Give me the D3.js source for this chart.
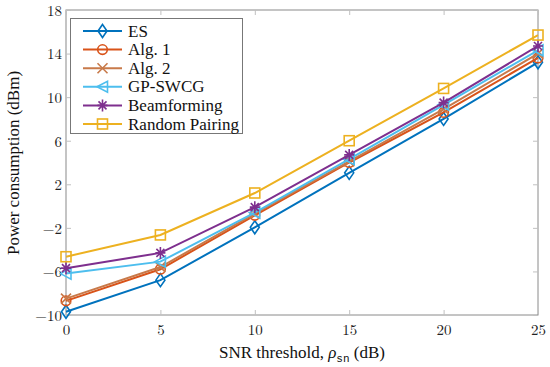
<!DOCTYPE html>
<html><head><meta charset="utf-8">
<script src="https://cdn.jsdelivr.net/npm/d3@7"></script>
<style>
body{margin:0;background:#fff;}
</style></head>
<body><svg id="c" width="550" height="367"></svg>
<script>
const snr = [0, 5, 10, 15, 20, 25];
const xTicks = [0, 5, 10, 15, 20, 25];
const yTicks = [-10, -6, -2, 2, 6, 10, 14, 18];
const seriesNames = ["ES", "Alg. 1", "Alg. 2", "GP-SWCG", "Beamforming", "Random Pairing"];
const esVals = [-9.7, -6.8, -1.95, 3.05, 8.0, 13.2];
const alg1Vals = [-8.7, -5.8, -0.85, 4.0, 8.6, 13.6];
const alg2Vals = [-8.5, -5.6, -0.7, 4.1, 8.9, 14.0];
const gpVals = [-6.2, -5.1, -0.6, 4.3, 9.3, 14.3];
const bfVals = [-5.7, -4.3, -0.1, 4.7, 9.5, 14.7];
const rpVals = [-4.65, -2.65, 1.2, 6.0, 10.8, 15.7];
const colors = ["#0072BD", "#D95319", "#C87A4A", "#4DBEEE", "#7E2F8E", "#EDB120"];
const markers = ["diamond", "circle", "cross", "triangle", "star", "square"];
const allVals = [esVals, alg1Vals, alg2Vals, gpVals, bfVals, rpVals];

const svg = d3.select("#c");
const m = {l:66, r:538, t:10, b:315};
const x = d3.scaleLinear().domain([0,25]).range([m.l, m.r]);
const y = d3.scaleLinear().domain([-10,18]).range([m.b, m.t]);
const axisCol = "#8a8a8a";
const SERIF = '"Liberation Serif"';
const CM = '"Latin Modern Roman"';

svg.append("rect").attr("x",m.l).attr("y",m.t).attr("width",m.r-m.l).attr("height",m.b-m.t)
  .attr("fill","none").attr("stroke",axisCol).attr("stroke-width",1);

const fmt = d => d < 0 ? "\u2212" + Math.abs(d) : String(d);
const xa = svg.append("g").attr("transform",`translate(0,${m.b})`)
  .call(d3.axisBottom(x).tickValues(xTicks).tickSize(-5).tickPadding(9).tickFormat(fmt));
const xt = svg.append("g").attr("transform",`translate(0,${m.t})`)
  .call(d3.axisTop(x).tickValues(xTicks).tickSize(-5).tickFormat(""));
const ya = svg.append("g").attr("transform",`translate(${m.l},0)`)
  .call(d3.axisLeft(y).tickValues(yTicks).tickSize(-5).tickPadding(4).tickFormat(fmt));
const yr = svg.append("g").attr("transform",`translate(${m.r},0)`)
  .call(d3.axisRight(y).tickValues(yTicks).tickSize(-5).tickFormat(""));
[xa,xt,ya,yr].forEach(g=>{
  g.attr("font-family",null);
  g.select(".domain").remove();
  g.selectAll("line").attr("stroke","#c0c0c0");
  g.selectAll("text").attr("fill","#222").style("font-family",CM).style("font-size","15px");
});
ya.selectAll("text").attr("dy","0.36em");

const line = d3.line().x((d,i)=>x(snr[i])).y(d=>y(d));

function marker(g, type, cx, cy, col){
  const s = 5;
  if(type==="diamond"){
    g.append("path").attr("d",`M${cx},${cy-6.5}L${cx+4.5},${cy}L${cx},${cy+6.5}L${cx-4.5},${cy}Z`)
     .attr("fill","none").attr("stroke",col).attr("stroke-width",1.6);
  } else if(type==="circle"){
    g.append("circle").attr("cx",cx).attr("cy",cy).attr("r",4.8)
     .attr("fill","none").attr("stroke",col).attr("stroke-width",1.6);
  } else if(type==="cross"){
    g.append("path").attr("d",`M${cx-s},${cy-s}L${cx+s},${cy+s}M${cx-s},${cy+s}L${cx+s},${cy-s}`)
     .attr("stroke",col).attr("stroke-width",1.6);
  } else if(type==="triangle"){
    g.append("path").attr("d",`M${cx-5.5},${cy}L${cx+5},${cy-5.5}L${cx+5},${cy+5.5}Z`)
     .attr("fill","none").attr("stroke",col).attr("stroke-width",1.6);
  } else if(type==="star"){
    g.append("path").attr("d",`M${cx-s},${cy}L${cx+s},${cy}M${cx},${cy-s-1}L${cx},${cy+s+1}M${cx-4},${cy-4}L${cx+4},${cy+4}M${cx-4},${cy+4}L${cx+4},${cy-4}`)
     .attr("stroke",col).attr("stroke-width",1.6);
  } else if(type==="square"){
    g.append("rect").attr("x",cx-5).attr("y",cy-5).attr("width",10).attr("height",10)
     .attr("fill","none").attr("stroke",col).attr("stroke-width",1.6);
  }
}

allVals.forEach((vals,k)=>{
  const g = svg.append("g");
  g.append("path").datum(vals).attr("d",line).attr("fill","none")
   .attr("stroke",colors[k]).attr("stroke-width",2);
  vals.forEach((v,i)=>marker(g, markers[k], x(snr[i]), y(v), colors[k]));
});

const lg = svg.append("g");
lg.append("rect").attr("x",70.5).attr("y",18.5).attr("width",172).attr("height",115)
  .attr("fill","#fff").attr("stroke","#777").attr("stroke-width",1);
seriesNames.forEach((n,k)=>{
  const yy = 31 + k*18.6;
  lg.append("line").attr("x1",83).attr("x2",122).attr("y1",yy).attr("y2",yy)
    .attr("stroke",colors[k]).attr("stroke-width",2);
  marker(lg, markers[k], 102.5, yy, colors[k]);
  lg.append("text").attr("x",128).attr("y",yy+5.5)
    .style("font-family",SERIF).style("font-size","17px").attr("fill","#111").text(n);
});

svg.append("text").attr("transform","translate(19,163) rotate(-90)").attr("text-anchor","middle")
  .style("font-family",SERIF).style("font-size","17px").attr("fill","#111").text("Power consumption (dBm)");
const xl = svg.append("text").attr("x",302).attr("y",358).attr("text-anchor","middle")
  .style("font-family",SERIF).style("font-size","17px").attr("fill","#111");
xl.append("tspan").text("SNR threshold, ");
xl.append("tspan").style("font-family",CM).style("font-style","italic").text("\u03C1");
xl.append("tspan").attr("dy",4).style("font-family",'"Liberation Mono"').style("font-size","11px").text("sn");
xl.append("tspan").attr("dy",-4).text(" (dB)");
</script></body></html>
